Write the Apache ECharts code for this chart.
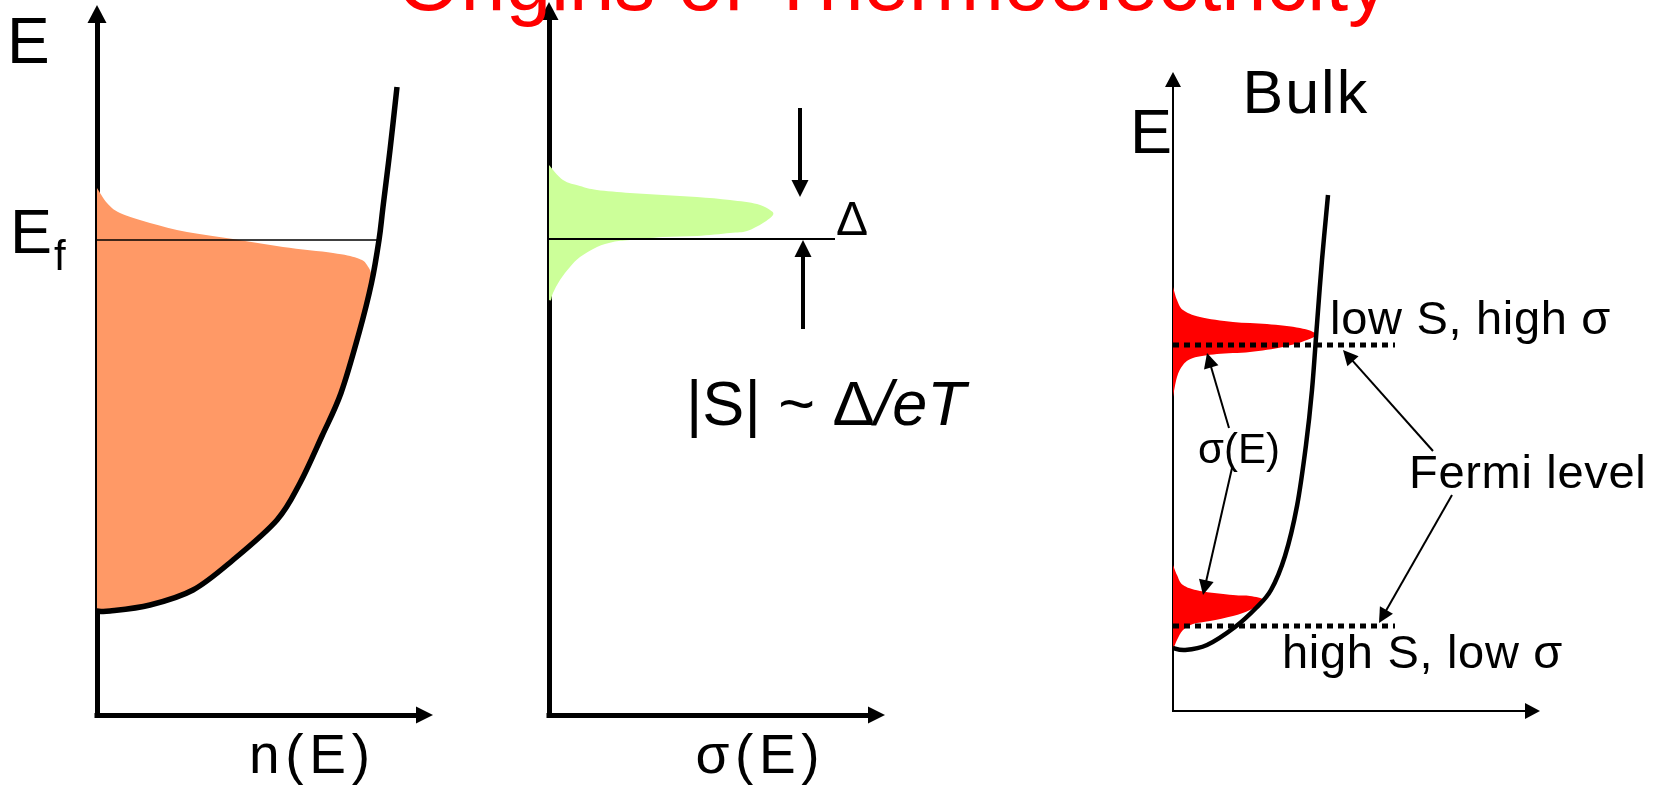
<!DOCTYPE html>
<html>
<head>
<meta charset="utf-8">
<title>Origins of Thermoelectricity</title>
<script src="https://cdn.jsdelivr.net/npm/echarts@6/dist/echarts.min.js"></script>
<style>
  html, body { margin: 0; padding: 0; background: #ffffff; }
  #main { width: 1655px; height: 793px; }
</style>
</head>
<body>
<div id="main"></div>
<script>
// ---------- data (schematic units: x = density / conductivity, y = energy) ----------

// Panel 1: density of states n(E)
const dosCurve = [[0, 10.4], [1.3, 10.4], [5.3, 11.0], [9.6, 12.5], [13.6, 15.5], [18.0, 19.5],
  [20.3, 23.2], [22.5, 27.9], [24.4, 32.2], [26.2, 38.2], [27.45, 43.2], [28.2, 47.5],
  [28.6, 50.8], [29.3, 56.5], [30.0, 62.8]];
// occupied states: up the band edge, then back along the smeared Fermi edge
const occupied = [[0, 10.4], [1.3, 10.4], [5.3, 11.0], [9.6, 12.5], [13.6, 15.5], [18.0, 19.5],
  [20.3, 23.2], [22.5, 27.9], [24.4, 32.2], [26.2, 38.2], [27.4, 43.3],
  [27.0, 45.0], [26.0, 45.7], [23.6, 46.2], [18.6, 46.8], [13.6, 47.6], [9.0, 48.3],
  [5.3, 49.2], [2.3, 50.2], [1.0, 51.2], [0, 52.7]];
const fermiLevel1 = 47.5;
const fermiEnd1 = 28.2;

// Panel 2: conductivity sigma(E) around the Fermi level
const sigmaPeak = [[0, 55.0], [1.4, 53.5], [3.1, 52.9], [4.8, 52.5], [8.1, 52.2], [11.4, 52.0],
  [14.8, 51.8], [18.1, 51.5], [20.8, 51.1], [22.1, 50.5], [22.4, 50.0], [21.4, 49.2],
  [19.8, 48.4], [18.1, 48.2], [14.8, 47.9], [11.4, 47.8], [8.1, 47.5], [6.4, 47.3],
  [4.8, 46.8], [3.1, 45.8], [2.1, 44.8], [1.1, 43.5], [0.4, 42.2], [0.2, 41.5], [0, 41.5]];
const fermiLevel2 = 47.6;
const fermiEnd2 = 28.6;
// Delta markers: [tail, tip]
const deltaArrows = [[[25.1, 60.7], [25.1, 51.8]], [[25.4, 38.6], [25.4, 47.5]]];

// Panel 3: bulk density of states with two Fermi level positions
const bulkDos = [[0, 6.3], [1.2, 6.1], [3.4, 6.6], [6.2, 8.4], [8.3, 10.3], [9.8, 12.1],
  [11.2, 15.5], [12.4, 20.5], [13.3, 26.6], [13.9, 32.1], [14.4, 38.7], [14.9, 45.1], [15.5, 51.6]];
const upperSigma = [[0, 42.4], [0.4, 41.1], [1.0, 40.1], [2.7, 39.4], [6.0, 38.9], [9.4, 38.7],
  [12.7, 38.3], [14.3, 37.7], [13.4, 37.1], [11.0, 36.4], [7.7, 35.9], [4.4, 35.7],
  [2.0, 35.3], [1.0, 34.6], [0.4, 33.4], [0, 31.4]];
const lowerSigma = [[0, 14.6], [0.4, 13.6], [1.0, 12.6], [2.7, 12.0], [6.0, 11.6], [7.7, 11.5],
  [9.0, 11.1], [7.7, 10.1], [6.0, 9.5], [3.7, 9.0], [2.0, 8.7], [1.0, 8.1], [0.4, 7.1], [0, 6.1]];
const fermiLevels3 = [36.6, 8.5];
const fermiEnd3 = 22.2;
// annotation arrows: [tail, tip]
const sigmaArrows = [[[5.6, 28.3], [3.4, 35.8]], [[5.9, 24.3], [3.0, 11.6]]];
const fermiArrows = [[[26.0, 26.0], [17.0, 36.1]], [[27.9, 21.6], [20.6, 8.8]]];

// ---------- layout ----------
const PX = 10; // pixels per schematic unit on every axis
const grids = [
  { left: 97, top: 14, width: 327.5, height: 701 },
  { left: 549, top: 11, width: 327.5, height: 704 },
  { left: 1173, top: 79.5, width: 359.5, height: 631.5 }
];
const axisStyle = [
  { width: 5, yHead: [19, 18], xHead: [17, 17] },
  { width: 5, yHead: [19, 18], xHead: [17, 17] },
  { width: 2, yHead: [16, 15], xHead: [16, 15] }
];

const FONT = 'Liberation Sans';

function axisLine(width, head) {
  return {
    show: true, onZero: false,
    symbol: ['none', 'triangle'], symbolSize: head,
    lineStyle: { color: '#000', width: width, cap: 'square' }
  };
}
const xAxes = grids.map((g, i) => ({
  type: 'value', gridIndex: i, min: 0, max: g.width / PX,
  axisLine: axisLine(axisStyle[i].width, axisStyle[i].xHead),
  axisTick: { show: false }, axisLabel: { show: false }, splitLine: { show: false }
}));
const yAxes = grids.map((g, i) => ({
  type: 'value', gridIndex: i, min: 0, max: g.height / PX,
  axisLine: axisLine(axisStyle[i].width, axisStyle[i].yHead),
  axisTick: { show: false }, axisLabel: { show: false }, splitLine: { show: false }
}));

// Catmull-Rom spline through pixel points as SVG path data
function splinePath(pts, closed) {
  let d = 'M' + pts[0][0] + ',' + pts[0][1];
  for (let i = 0; i < pts.length - 1; i++) {
    const p0 = pts[Math.max(i - 1, 0)], p1 = pts[i], p2 = pts[i + 1];
    const p3 = pts[Math.min(i + 2, pts.length - 1)];
    const c1 = [p1[0] + (p2[0] - p0[0]) / 6, p1[1] + (p2[1] - p0[1]) / 6];
    const c2 = [p2[0] - (p3[0] - p1[0]) / 6, p2[1] - (p3[1] - p1[1]) / 6];
    d += ' C' + c1[0] + ',' + c1[1] + ' ' + c2[0] + ',' + c2[1] + ' ' + p2[0] + ',' + p2[1];
  }
  return closed ? d + ' Z' : d;
}

// one spline per series: drawn once, from every data point mapped through the axes
function splineSeries(idx, pts, style, z, closed) {
  return {
    type: 'custom', xAxisIndex: idx, yAxisIndex: idx, data: pts,
    encode: { x: 0, y: 1 }, clip: false, silent: true, z: z,
    renderItem: function (params, api) {
      if (params.dataIndex !== 0) return null;
      return {
        type: 'path',
        shape: { pathData: splinePath(pts.map(p => api.coord(p)), closed) },
        style: style
      };
    }
  };
}
const areaSeries = (idx, pts, color) =>
  splineSeries(idx, pts, { fill: color, stroke: null }, 1, true);
const curveSeries = (idx, pts, width) =>
  splineSeries(idx, pts, { fill: null, stroke: '#000', lineWidth: width, lineJoin: 'round' }, 4, false);

function levelSeries(idx, level, end, style, z) {
  return {
    type: 'line', xAxisIndex: idx, yAxisIndex: idx, data: [[0, level], [end, level]],
    showSymbol: false, symbol: 'none', clip: false, silent: true, z: z,
    lineStyle: Object.assign({ color: '#000' }, style)
  };
}

// arrow shaft stops half a head short so the triangle tip lands on the target
function arrowSeries(idx, arrows, width, head) {
  return {
    type: 'lines', coordinateSystem: 'cartesian2d', xAxisIndex: idx, yAxisIndex: idx,
    silent: true, z: 6,
    symbol: ['none', 'triangle'], symbolSize: head,
    lineStyle: { color: '#000', width: width, opacity: 1, curveness: 0 },
    data: arrows.map(([tail, tip]) => {
      const dx = tip[0] - tail[0], dy = tip[1] - tail[1];
      const len = Math.hypot(dx, dy);
      const back = head / 2 / PX;
      return { coords: [tail, [tip[0] - dx / len * back, tip[1] - dy / len * back]] };
    })
  };
}

const series = [
  areaSeries(0, occupied, '#ff9966'),
  levelSeries(0, fermiLevel1, fermiEnd1, { width: 1.5 }, 3),
  curveSeries(0, dosCurve, 5.5),

  areaSeries(1, sigmaPeak, '#ccff99'),
  levelSeries(1, fermiLevel2, fermiEnd2, { width: 2 }, 3),
  arrowSeries(1, deltaArrows, 4, 17),

  areaSeries(2, upperSigma, '#ff0000'),
  areaSeries(2, lowerSigma, '#ff0000'),
  curveSeries(2, bulkDos, 4.5),
  levelSeries(2, fermiLevels3[0], fermiEnd3, { width: 5, type: [6, 5] }, 5),
  levelSeries(2, fermiLevels3[1], fermiEnd3, { width: 5, type: [6, 5] }, 5),
  arrowSeries(2, sigmaArrows, 2, 15),
  arrowSeries(2, fermiArrows, 2, 15)
];

// ---------- text ----------
const measureCtx = document.createElement('canvas').getContext('2d');
const graphicEls = [];
// places text by its alphabetic baseline; optional extra spacing between characters
function addText(str, x, baseline, size, opts) {
  opts = opts || {};
  const fontStyle = opts.italic ? 'italic' : 'normal';
  measureCtx.font = fontStyle + ' normal ' + size + 'px "' + FONT + '"';
  const y = baseline - 0.3465 * size;
  const parts = opts.spacing ? Array.from(str) : [str];
  let cx = x;
  parts.forEach(part => {
    graphicEls.push({
      type: 'text', x: cx, y: y, silent: true, z: 10,
      style: {
        text: part, fill: opts.color || '#000',
        fontFamily: FONT, fontSize: size, fontStyle: fontStyle,
        align: 'left', verticalAlign: 'middle'
      }
    });
    cx += measureCtx.measureText(part).width + (opts.spacing || 0);
  });
  return cx - (opts.spacing || 0);
}

addText('Origins of Thermoelectricity', 397, 16, 81.5, { color: '#ff0000' });

addText('E', 7, 68, 64);
addText('E', 10, 257, 63);
addText('f', 54, 273, 42);
addText('n(E)', 249, 777, 55, { spacing: 5.7 });

addText('\u0394', 836, 238, 48);
const formulaEnd = addText('|S| ~ \u0394', 686, 429, 63);
addText('/eT', formulaEnd, 429, 63, { italic: true });
addText('\u03c3(E)', 695.5, 777, 55, { spacing: 5.6 });

addText('Bulk', 1242.5, 117, 61, { spacing: 2 });
addText('E', 1130, 157, 63);
addText('low S, high \u03c3', 1330, 337, 47, { spacing: 0.7 });
addText('\u03c3(E)', 1198, 466, 42);
addText('Fermi level', 1409, 491, 47, { spacing: 0.7 });
addText('high S, low \u03c3', 1282, 671, 47, { spacing: 0.7 });

const chart = echarts.init(document.getElementById('main'), null, { renderer: 'canvas' });
chart.setOption({
  backgroundColor: '#ffffff',
  animation: false,
  textStyle: { fontFamily: FONT },
  grid: grids.map(g => Object.assign({ containLabel: false }, g)),
  xAxis: xAxes,
  yAxis: yAxes,
  series: series,
  graphic: { elements: graphicEls }
});
</script>
</body>
</html>
